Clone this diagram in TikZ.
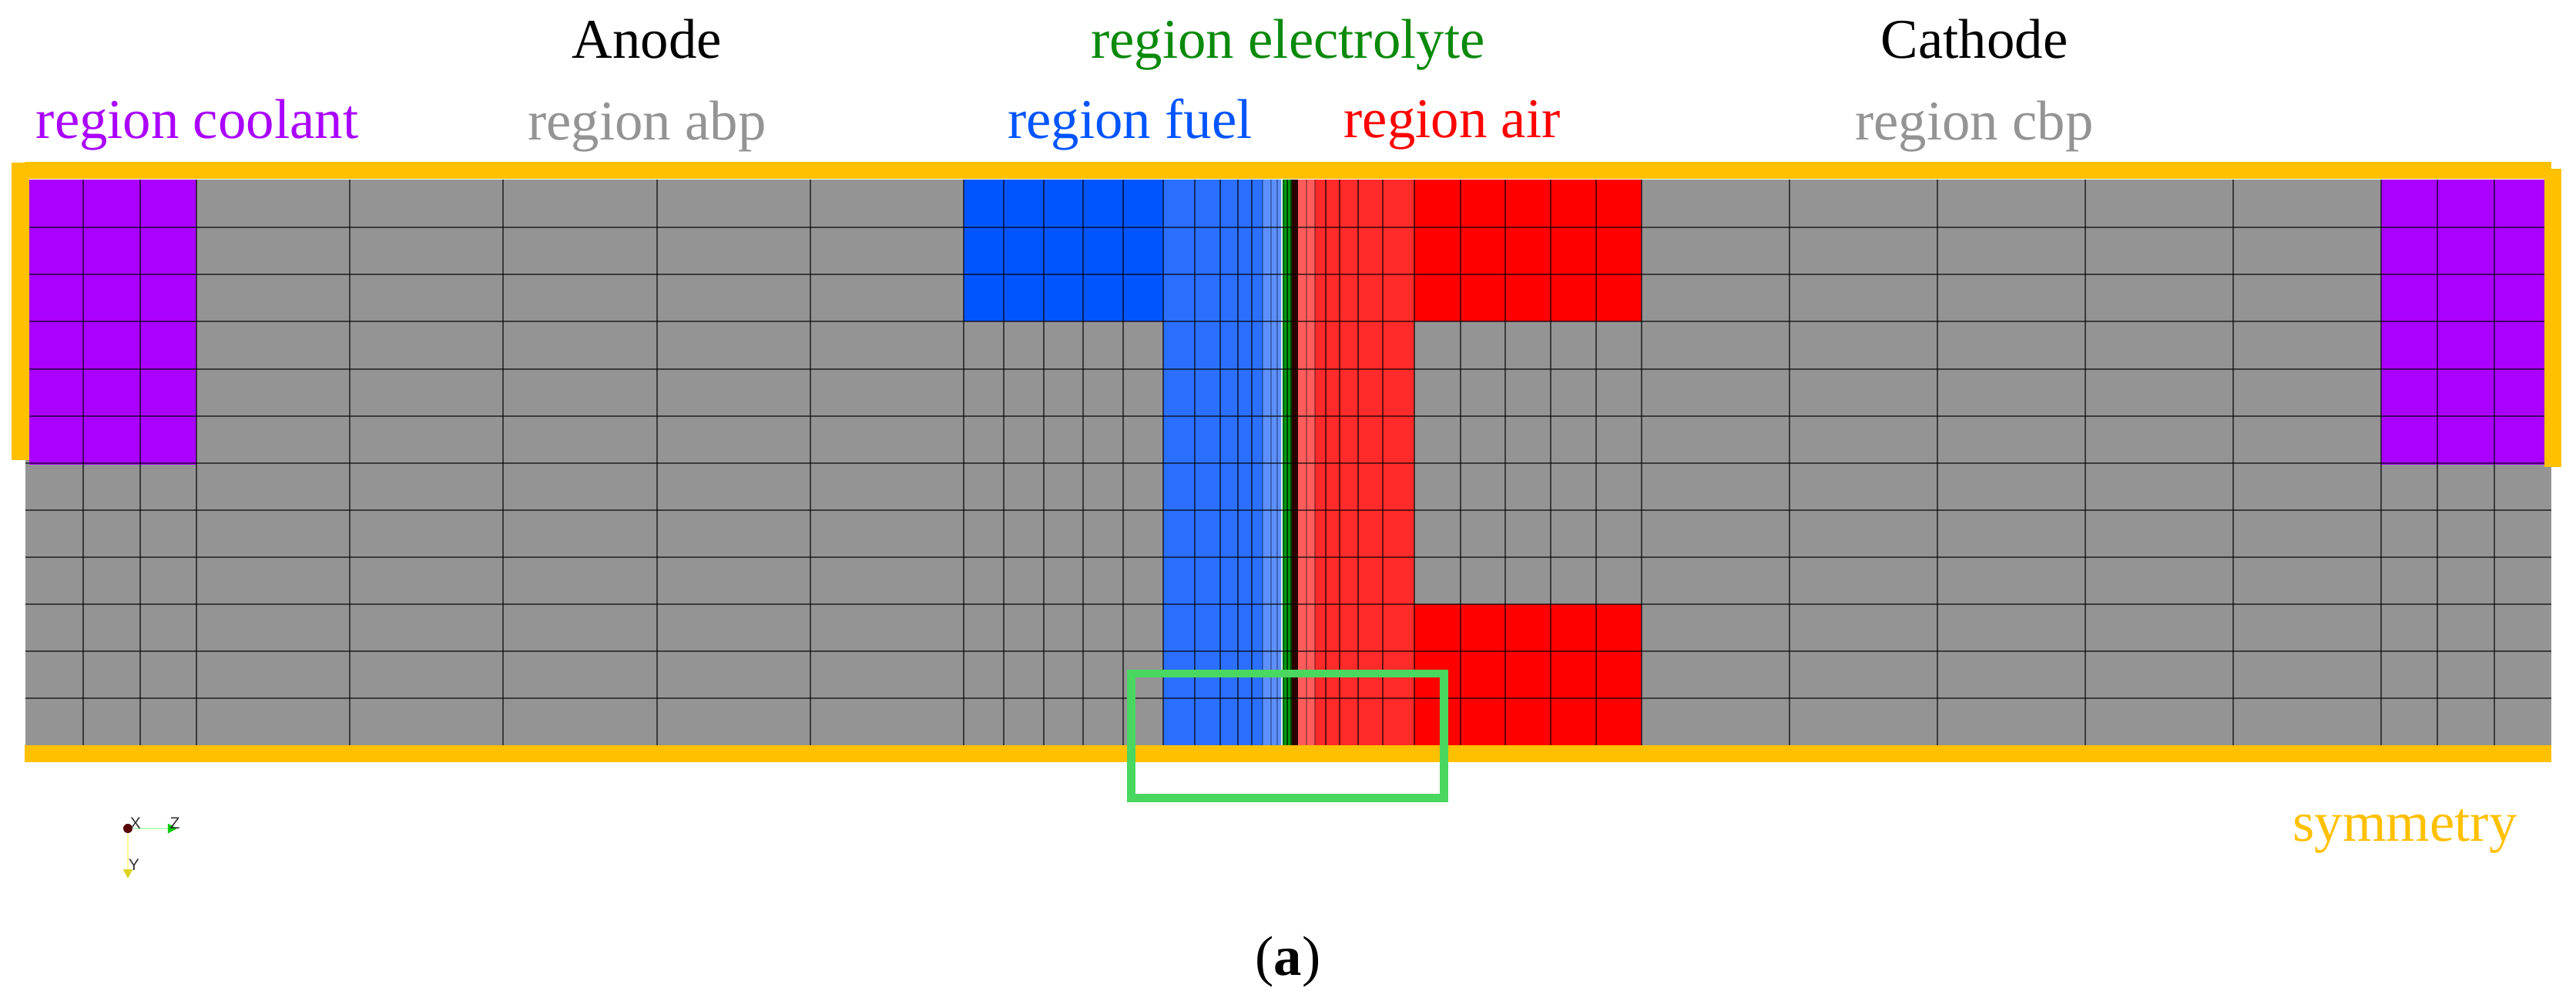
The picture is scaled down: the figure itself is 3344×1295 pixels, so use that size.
\documentclass[tikz,border=0pt]{standalone}
\usepackage{fontspec}
\setmainfont{Liberation Serif}
\setsansfont{Liberation Sans}
\usetikzlibrary{arrows.meta,positioning}
\definecolor{meshgray}{HTML}{949494}
\definecolor{coolant}{HTML}{AA00FF}
\definecolor{fuelblue}{HTML}{0055FF}
\definecolor{gdlblue}{HTML}{2B6FFF}
\definecolor{mplblue}{HTML}{5C8FFF}
\definecolor{gdlred}{HTML}{FF2A2A}
\definecolor{mplred}{HTML}{FF5C5C}
\definecolor{membrane}{HTML}{009A10}
\definecolor{darkband}{HTML}{2A0000}
\definecolor{symm}{HTML}{FFC000}
\definecolor{zoomgreen}{HTML}{4AD75F}
\definecolor{elecgreen}{HTML}{0A8A0A}
\tikzset{
  lbl/.style={font=\fontsize{20.7}{24}\selectfont, inner sep=0pt, anchor=center},
  meshline/.style={black, line width=0.8pt, opacity=0.6},
  fineline/.style={black, line width=0.6pt, opacity=0.3},
  symmbar/.style={fill=symm},
  zoombox/.style={draw=zoomgreen, line width=3.1pt},
  axlbl/.style={font=\sffamily\fontsize{6}{7}\selectfont, text=black!80, inner sep=0pt},
  axline/.style={line width=0.6pt}
}

\begin{document}
\begin{tikzpicture}[x=0.01cm, y=-0.01cm, node distance=1.13cm and 0cm]
\useasboundingbox (0,0) rectangle (3344,1295);

% mesh
\fill[meshgray] (33,233) rectangle (3312,967);
\fill[coolant] (38,233) rectangle (255,603);
\fill[coolant] (3091,233) rectangle (3312,603);
\fill[fuelblue] (1251,233) rectangle (1510,417);
\fill[gdlblue] (1510,233) rectangle (1639,967);
\fill[mplblue] (1639,233) rectangle (1664,967);
\fill[white!75!mplblue] (1663,233) rectangle (1665,967);
\fill[membrane] (1665,233) rectangle (1677,967);
\fill[darkband] (1677,233) rectangle (1685,967);
\fill[mplred] (1685,233) rectangle (1707,967);
\fill[gdlred] (1707,233) rectangle (1836,967);
\fill[red] (1836,233) rectangle (2131,417);
\fill[red] (1836,784) rectangle (2131,967);

\foreach \xm in {108,182,255,454,653,853,1052,1251,1303,1355,1406,1458,1510,1551,1584,1607,1625,1721,1739,1763,1795,1836,1896,1954,2013,2072,2131,2323,2515,2707,2899,3091,3164,3238}
  \draw[meshline] (\xm,233) -- (\xm,967);
\foreach \xm in {1639,1650,1658,1696,1707}
  \draw[fineline] (\xm,233) -- (\xm,967);
\foreach \xm in {1666.5,1671,1676}
  \draw[black, line width=0.5pt, opacity=0.6] (\xm,233) -- (\xm,967);
\foreach \ym in {295,356,417,479,540,601,662,723,784,845,906}
  \draw[meshline] (33,\ym) -- (3312,\ym);

% symmetry bars
\fill[symmbar] (32,210) rectangle (3312,232);
\fill[symmbar] (15,211) rectangle (38,597);
\fill[symmbar] (3303,219) rectangle (3325,606);
\fill[symmbar] (32,967) rectangle (3312,989);
\draw[zoombox] (1468.5,874) rectangle (1874.5,1035.5);

% labels
\node[lbl, text=coolant] (coolantlbl) at (256,162) {region coolant};
\node[lbl, text=meshgray] (abplbl) at (840,164) {region abp};
\node[lbl, text=fuelblue] (fuellbl) at (1467,162) {region fuel};
\node[lbl, text=red] (airlbl) at (1885,162) {region air};
\node[lbl, text=meshgray] (cbplbl) at (2563,164) {region cbp};
\node[lbl, text=elecgreen] (eleclbl) at (1672,58) {region electrolyte};
\node[lbl, above=of abplbl.center, anchor=center] (anodelbl) {Anode};
\node[lbl, above=of cbplbl.center, anchor=center] (cathodelbl) {Cathode};
\node[lbl, text=symm] (symmlbl) at (3122,1079) {symmetry};
\node[lbl] (caption) at (1672,1248) {(\textbf{a})};

% axes
\node[circle, fill=black!30!red!50!black, minimum size=0.12cm, inner sep=0pt] (origin) at (166,1075) {};
\coordinate (zend) at (230,1075);
\coordinate (yend) at (166,1140);
\draw[axline, green!25, -{Triangle[color=green!80!black, length=1.2mm, width=1.2mm]}] (origin) -- (zend);
\draw[axline, yellow!40, -{Triangle[color=yellow!85!black, length=1.2mm, width=1.2mm]}] (origin) -- (yend);
\node[axlbl] (xlbl) at (176,1068) {X};
\node[axlbl] (zlbl) at (227,1068) {Z};
\node[axlbl] (ylbl) at (174,1122) {Y};
\end{tikzpicture}
\end{document}
